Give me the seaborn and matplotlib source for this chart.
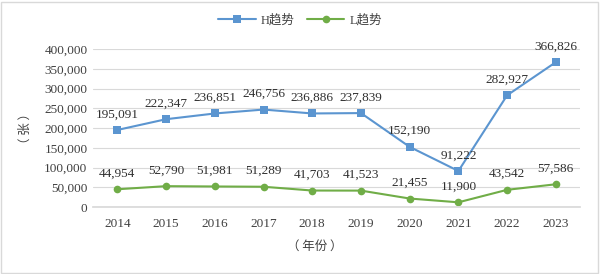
import matplotlib
matplotlib.use("Agg")
import matplotlib.pyplot as plt
import seaborn as sns
import pandas as pd
from matplotlib.patches import Rectangle

years = ["2014", "2015", "2016", "2017", "2018", "2019", "2020", "2021", "2022", "2023"]
h_values = [195091, 222347, 236851, 246756, 236886, 237839, 152190, 91222, 282927, 366826]
l_values = [44954, 52790, 51981, 51289, 41703, 41523, 21455, 11900, 43542, 57586]
series_names = ["H趋势", "L趋势"]
y_ticks = [0, 50000, 100000, 150000, 200000, 250000, 300000, 350000, 400000]

sns.set_theme(style="white")
plt.rcParams['font.family'] = ['Liberation Serif', 'Noto Sans CJK SC']

df = pd.DataFrame({
    "year": years * 2,
    "value": h_values + l_values,
    "series": [series_names[0]] * len(years) + [series_names[1]] * len(years),
})

fig = plt.figure(figsize=(6.0, 2.74), dpi=100)
ax = fig.add_axes([0.155, 0.2445, 0.812, 0.5765])

palette = {series_names[0]: "#5B95D0", series_names[1]: "#70AD47"}
sns.lineplot(data=df, x="year", y="value", hue="series", style="series",
             markers={series_names[0]: "s", series_names[1]: "o"},
             dashes=False, palette=palette, linewidth=1.5, markersize=5.5,
             markeredgewidth=0, ax=ax, sort=False)

ax.set_xlim(-0.5, len(years) - 0.5)
ax.set_ylim(0, 400000)
ax.set_yticks(y_ticks)
ax.set_yticklabels([f"{v:,}" for v in y_ticks])
ax.yaxis.grid(True, color="#d9d9d9", linewidth=0.8)
ax.set_axisbelow(True)
for s in ["top", "right", "left"]:
    ax.spines[s].set_visible(False)
ax.spines["bottom"].set_color("#d9d9d9")
ax.tick_params(axis="both", length=0, labelsize=9.5, colors="#404040", pad=4)
ax.tick_params(axis="x", pad=8)

for vals in (h_values, l_values):
    for i, v in enumerate(vals):
        ax.annotate(f"{v:,}", (i, v), xytext=(0, 7), textcoords="offset points",
                    ha="center", va="bottom", fontsize=9.5, color="#303030")

ax.set_xlabel("（ 年份 ）", fontsize=9, color="#404040", family=['Noto Sans CJK SC'], labelpad=6)
ax.set_ylabel("（ 张 ）", fontsize=9, color="#404040", family=['Noto Sans CJK SC'], labelpad=6)
ax.yaxis.set_label_coords(-0.125, 0.5)
ax.xaxis.set_label_coords(0.456, -0.21)

ax.legend_.remove()
handles, labels = ax.get_legend_handles_labels()
leg = fig.legend(handles, labels, loc="center", bbox_to_anchor=(0.5, 0.925),
                 ncol=2, frameon=False, handlelength=3.0, columnspacing=1.0, handletextpad=0.4,
                 prop={'family': ['Liberation Serif', 'Noto Sans CJK SC'], 'size': 9})
for t in leg.get_texts():
    t.set_color("#404040")

fig.patches.append(Rectangle((0.002, 0.004), 0.994, 0.99, transform=fig.transFigure,
                             fill=False, edgecolor="#d9d9d9", linewidth=1))

fig.savefig("out.png", dpi=100)
